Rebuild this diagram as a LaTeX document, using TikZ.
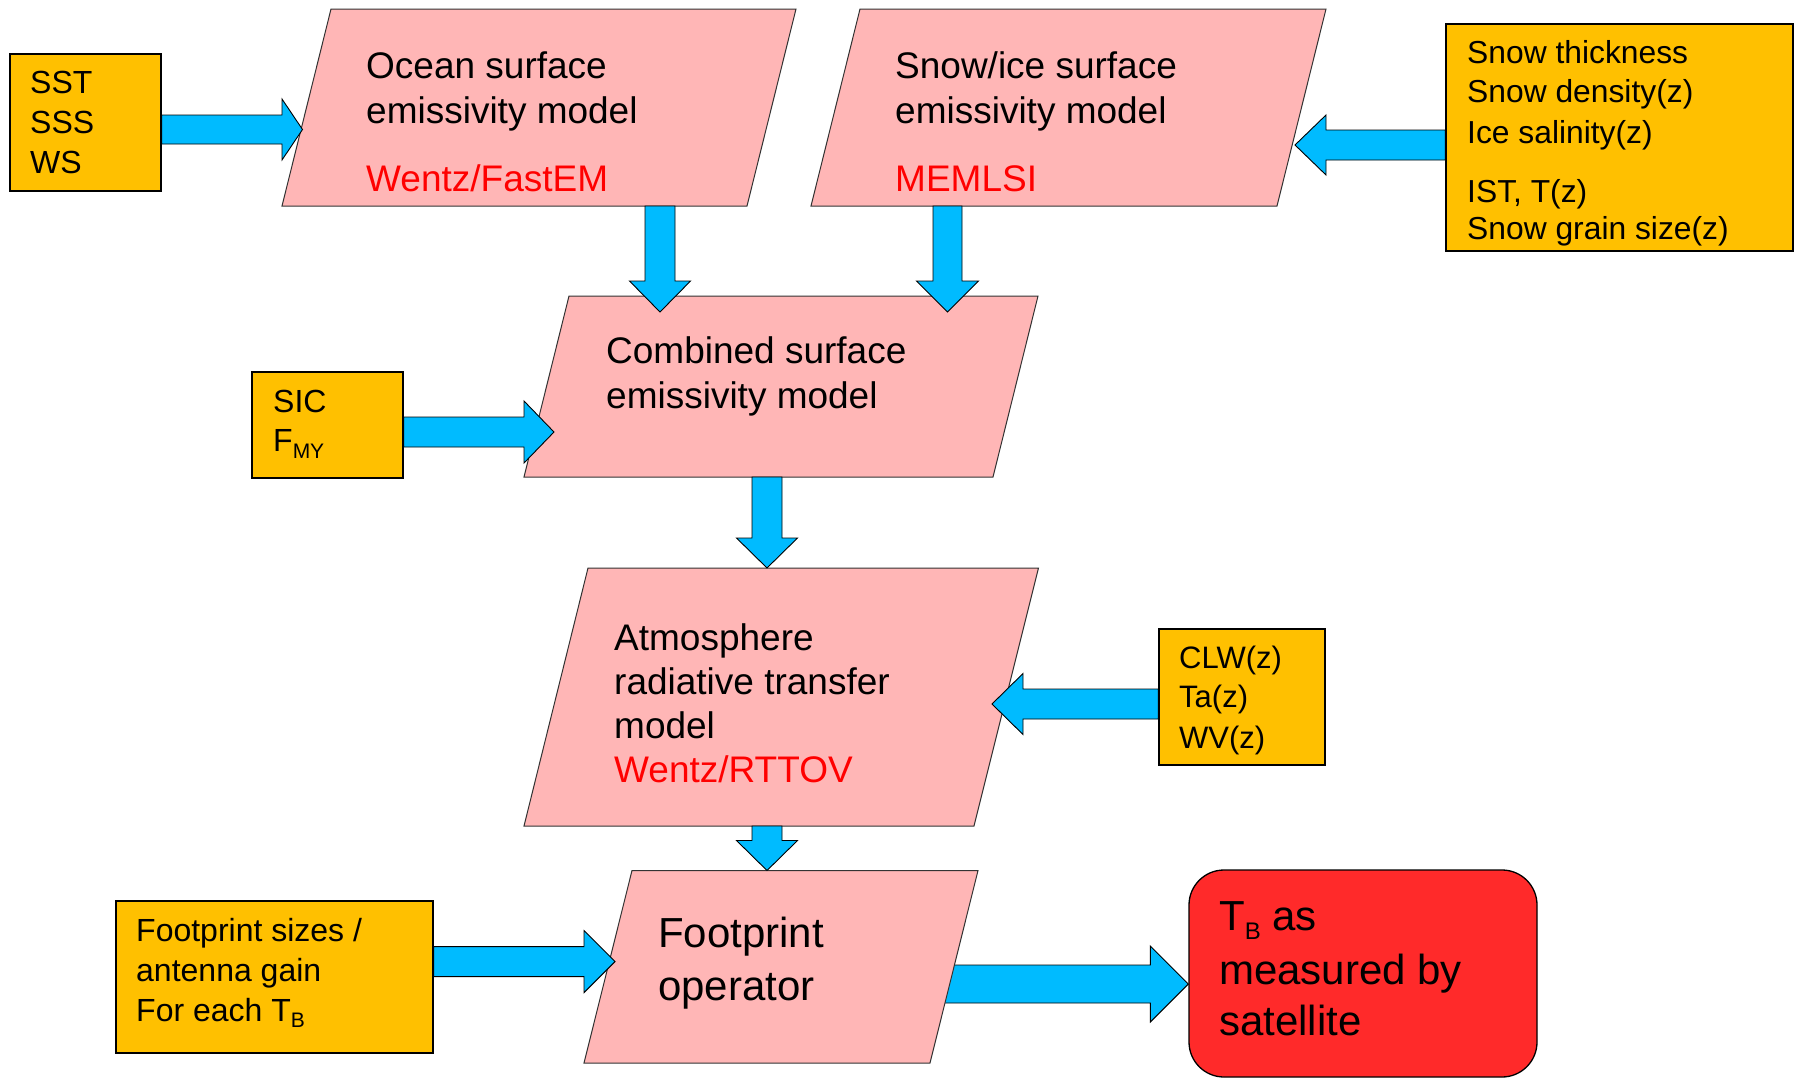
\documentclass[tikz,border=0pt]{standalone}
\usepackage{fontspec}
\setmainfont{Liberation Sans}
\usetikzlibrary{calc}
\definecolor{pinkfill}{RGB}{255,182,182}
\definecolor{orangefill}{RGB}{255,192,0}
\definecolor{arrowblue}{RGB}{0,187,255}
\definecolor{tbred}{RGB}{255,42,42}
\definecolor{modred}{RGB}{255,0,0}
\newcommand{\mysub}[3]{\raisebox{#1}{\fontsize{#2}{#2}\selectfont #3}}
% start, tip, shaft half width, head half width, head length
\newcommand{\fatarrow}[5]{%
  \path ($(#2)!#5!(#1)$) coordinate (fab);
  \draw[fat] ($(#1)!#3!90:(#2)$) -- ($(fab)!#3!90:(#2)$) -- ($(fab)!#4!90:(#2)$) -- (#2)
    -- ($(fab)!#4!-90:(#2)$) -- ($(fab)!#3!-90:(#2)$) -- ($(#1)!#3!-90:(#2)$) -- cycle;
}
\begin{document}
\begin{tikzpicture}[x=1pt,y=-1pt,
  para/.style={fill=pinkfill, draw=black!80, line width=1pt},
  inbox/.style={rectangle, fill=orangefill, draw=black, line width=1.3pt, inner sep=0pt},
  fat/.style={fill=arrowblue, draw=black, line width=0.9pt, line join=miter},
  lbl/.style={anchor=base west, inner sep=0pt},
  big/.style={lbl, font=\fontsize{37}{44}\selectfont},
  huge/.style={lbl, font=\fontsize{42}{50}\selectfont},
  small/.style={lbl, font=\fontsize{32}{38}\selectfont},
  tiny/.style={lbl, font=\fontsize{31.8}{38}\selectfont},
  redtxt/.style={text=modred}]
\useasboundingbox (0,0) rectangle (1794,1079);

% input boxes
\node[inbox, minimum width=151pt, minimum height=137pt] (sst) at (85.5,122.5) {};
\node[inbox, minimum width=151pt, minimum height=106pt] (sic) at (327.5,425) {};
\node[inbox, minimum width=347pt, minimum height=227pt] (snowin) at (1619.5,137.5) {};
\node[inbox, minimum width=166pt, minimum height=136pt] (clw) at (1242,697) {};
\node[inbox, minimum width=317pt, minimum height=152pt] (fpin) at (274.5,977) {};
\node[rectangle, rounded corners=35pt, fill=tbred, draw=black, line width=1.3pt,
      minimum width=348pt, minimum height=207pt] (tb) at (1363,973.5) {};

% arrow footprint -> TB (drawn behind the footprint shape)
\coordinate (a10s) at (935,984);
\coordinate (a10t) at ($(tb.west)+(0,10.5)$);
\fatarrow{a10s}{a10t}{19pt}{38pt}{38pt}

% model shapes (parallelograms)
\draw[para] (331,9) coordinate (oc-tl) -- (796,9) -- (747,206) -- (282,206) -- cycle;
\draw[para] (860,9) coordinate (sn-tl) -- (1326,9) -- (1277,206) -- (811,206) -- cycle;
\draw[para] (569,296) coordinate (co-tl) -- (1038,296) -- (993,477) -- (524,477) -- cycle;
\draw[para] (588,568) coordinate (at-tl) -- (1038.5,568) -- (974,826) -- (524,826) -- cycle;
\draw[para] (632,870.5) coordinate (fp-tl) -- (978,870.5) -- (930,1063) -- (584,1063) -- cycle;

% arrows
\coordinate (a1s) at ($(sst.east)+(0,7)$);
\coordinate (a1t) at (302.5,129.5);
\fatarrow{a1s}{a1t}{14.5pt}{30.5pt}{20.5pt}

\coordinate (a2s) at ($(snowin.west)+(0,7.5)$);
\coordinate (a2t) at (1295,145);
\fatarrow{a2s}{a2t}{15pt}{30pt}{31pt}

\coordinate (a3s) at (660,206);
\coordinate (a3t) at (660,312);
\fatarrow{a3s}{a3t}{15pt}{30.5pt}{31pt}

\coordinate (a4s) at (947.5,206);
\coordinate (a4t) at (947.5,312);
\fatarrow{a4s}{a4t}{14.5pt}{31pt}{31pt}

\coordinate (a5s) at ($(sic.east)+(0,7)$);
\coordinate (a5t) at (554,432);
\fatarrow{a5s}{a5t}{15pt}{31pt}{30pt}

\coordinate (a6s) at (767,477);
\coordinate (a6t) at (767,568);
\fatarrow{a6s}{a6t}{15pt}{30.5pt}{30pt}

\coordinate (a7s) at ($(clw.west)+(0,7)$);
\coordinate (a7t) at (992,704);
\fatarrow{a7s}{a7t}{15pt}{30.5pt}{31pt}

\coordinate (a8s) at (767,826);
\coordinate (a8t) at (767,870.5);
\fatarrow{a8s}{a8t}{15pt}{30.5pt}{30pt}

\coordinate (a9s) at ($(fpin.east)+(0,-15.4)$);
\coordinate (a9t) at (615,961.6);
\fatarrow{a9s}{a9t}{15pt}{31pt}{31pt}

% texts in model shapes
\node[big] (oc1) at (366,78.5) {Ocean surface};
\node[big] (oc2) at (366,123) {emissivity model};
\node[big, redtxt] (oc3) at (366,191) {Wentz/FastEM};

\node[big] (sn1) at (895,78.5) {Snow/ice surface};
\node[big] (sn2) at (895,123) {emissivity model};
\node[big, redtxt] (sn3) at (895,191) {MEMLSI};

\node[big] (co1) at (606,363) {Combined surface};
\node[big] (co2) at (606,408) {emissivity model};

\node[big] (at1) at (614,650) {Atmosphere};
\node[big] (at2) at (614,694) {radiative transfer};
\node[big] (at3) at (614,738) {model};
\node[big, redtxt] (at4) at (614,782) {Wentz/RTTOV};

\node[huge] (fp1) at (658,947) {Footprint};
\node[huge] (fp2) at (658,1000) {operator};

% texts in input boxes
\node[small] (sst1) at (30,93) {SST};
\node[small] (sst2) at (30,133) {SSS};
\node[small] (sst3) at (30,173) {WS};

\node[small] (sic1) at (273,412) {SIC};
\node[small] (sic2) at (273,451) {F\mysub{-7pt}{21}{MY}};

\node[tiny] (si1) at (1467,63) {Snow thickness};
\node[tiny] (si2) at (1467,102) {Snow density(z)};
\node[tiny] (si3) at (1467,143) {Ice salinity(z)};
\node[tiny] (si4) at (1467,202) {IST, T(z)};
\node[tiny] (si5) at (1467,239) {Snow grain size(z)};

\node[lbl, font=\fontsize{31}{37}\selectfont] (cl1) at (1179,668) {CLW(z)};
\node[lbl, font=\fontsize{31}{37}\selectfont] (cl2) at (1179,707.5) {Ta(z)};
\node[lbl, font=\fontsize{31}{37}\selectfont] (cl3) at (1179,748) {WV(z)};

\node[small] (fi1) at (136,941) {Footprint sizes /};
\node[small] (fi2) at (136,981) {antenna gain};
\node[small] (fi3) at (136,1021) {For each T\mysub{-6pt}{21}{B}};

\node[huge] (tb1) at (1219,930) {T\mysub{-9.5pt}{24}{B} as};
\node[huge] (tb2) at (1219,984) {measured by};
\node[huge] (tb3) at (1219,1035) {satellite};
\end{tikzpicture}
\end{document}
